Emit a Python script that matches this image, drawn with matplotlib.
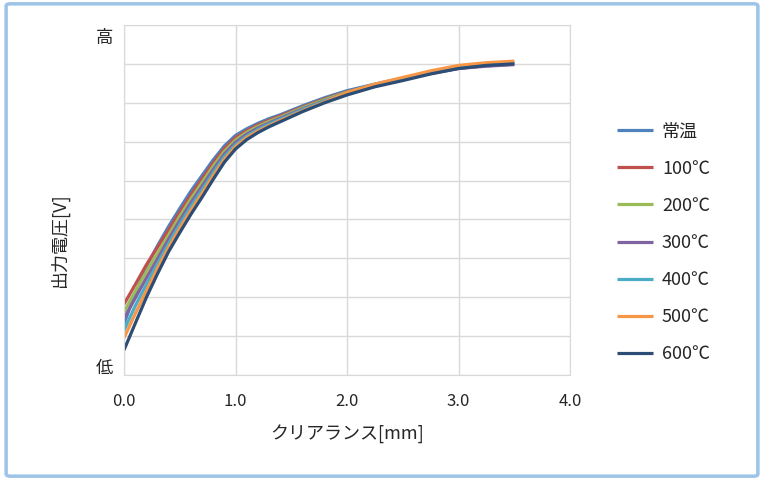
import matplotlib
matplotlib.use('Agg')
import matplotlib.pyplot as plt
from matplotlib.patches import FancyBboxPatch

plt.rcParams['font.family'] = ['Noto Sans CJK JP', 'DejaVu Sans']

# データ（縦軸は目盛なし: 0=低, 9=高 の相対値）
clearance = [0, 0.1, 0.2, 0.3, 0.4, 0.5, 0.6, 0.7, 0.8, 0.9, 1.0, 1.1, 1.2, 1.3,
             1.4, 1.6, 1.8, 2.0, 2.25, 2.5, 2.75, 3.0, 3.25, 3.5]
labels = ['常温', '100℃', '200℃', '300℃', '400℃', '500℃', '600℃']
v_room = [1.32, 2.09, 2.79, 3.32, 3.82, 4.28, 4.73, 5.13, 5.53, 5.89, 6.16, 6.33,
          6.47, 6.59, 6.69, 6.92, 7.13, 7.31, 7.48, 7.63, 7.78, 7.91, 7.98, 8.02]
v_100 = [1.82, 2.32, 2.83, 3.28, 3.73, 4.18, 4.63, 5.04, 5.45, 5.82, 6.10, 6.28,
         6.43, 6.55, 6.66, 6.89, 7.10, 7.28, 7.46, 7.61, 7.76, 7.89, 7.95, 7.99]
v_200 = [1.62, 2.15, 2.65, 3.12, 3.60, 4.08, 4.53, 4.95, 5.37, 5.75, 6.04, 6.24,
         6.39, 6.52, 6.63, 6.87, 7.08, 7.27, 7.46, 7.62, 7.78, 7.91, 7.98, 8.02]
v_300 = [1.45, 1.97, 2.49, 2.98, 3.49, 3.97, 4.43, 4.85, 5.28, 5.68, 5.98, 6.19,
         6.35, 6.48, 6.60, 6.84, 7.05, 7.24, 7.44, 7.60, 7.75, 7.88, 7.94, 7.98]
v_400 = [1.15, 1.77, 2.32, 2.86, 3.38, 3.87, 4.33, 4.76, 5.20, 5.61, 5.92, 6.14,
         6.31, 6.45, 6.57, 6.82, 7.04, 7.25, 7.46, 7.63, 7.79, 7.92, 8.00, 8.04]
v_500 = [0.95, 1.57, 2.16, 2.74, 3.28, 3.77, 4.23, 4.67, 5.12, 5.54, 5.87, 6.10,
         6.27, 6.41, 6.54, 6.79, 7.02, 7.26, 7.48, 7.65, 7.82, 7.96, 8.03, 8.07]
v_600 = [0.64, 1.32, 1.99, 2.60, 3.17, 3.66, 4.13, 4.57, 5.03, 5.47, 5.81, 6.05,
         6.23, 6.38, 6.51, 6.77, 7.00, 7.20, 7.41, 7.57, 7.74, 7.88, 7.96, 8.00]
series = [v_room, v_100, v_200, v_300, v_400, v_500, v_600]
colors = ['#4F81BD', '#C0504D', '#9BBB59', '#8064A2', '#4BACC6', '#F79646', '#2C4D75']

fig = plt.figure(figsize=(7.64, 4.8), dpi=100)

# 外枠
border = FancyBboxPatch((0.008, 0.008), 0.984, 0.984, boxstyle='round,pad=0,rounding_size=0.005',
                        transform=fig.transFigure, facecolor='white', edgecolor='#9DC3E6',
                        linewidth=2.5, zorder=-1)
fig.patches.append(border)

ax = fig.add_axes([0.1623, 0.2188, 0.5838, 0.7292])
ax.set_facecolor('none')

for vals, lab, c in zip(series, labels, colors):
    ax.plot(clearance, vals, color=c, linewidth=2.3, label=lab,
            solid_capstyle='butt', solid_joinstyle='round')

ax.set_xlim(0, 4)
ax.set_ylim(0, 9)
ax.set_xticks([0, 1, 2, 3, 4])
ax.set_xticklabels(['0.0', '1.0', '2.0', '3.0', '4.0'])
ax.set_yticks(range(10))
ax.set_yticklabels([])
ax.tick_params(length=0, labelsize=12, colors='#262626', pad=13)
ax.grid(True, color='#D9D9D9', linewidth=1)
for s in ax.spines.values():
    s.set_color('#D9D9D9')
ax.set_axisbelow(True)

ax.set_xlabel('クリアランス[mm]', fontsize=13, color='#262626', labelpad=11)
fig.text(0.078, 0.5, '出力電圧[V]', rotation=90, fontsize=13, color='#262626',
         ha='center', va='center')
fig.text(0.137, 0.921, '高', fontsize=12.5, color='#262626', ha='center', va='center')
fig.text(0.137, 0.234, '低', fontsize=12.5, color='#262626', ha='center', va='center')

fig.legend(loc='center left', bbox_to_anchor=(0.786, 0.494), frameon=False,
           fontsize=13, handlelength=2.0, labelspacing=1.06, handletextpad=0.5,
           labelcolor='#262626')

fig.savefig('out.png', dpi=100)
